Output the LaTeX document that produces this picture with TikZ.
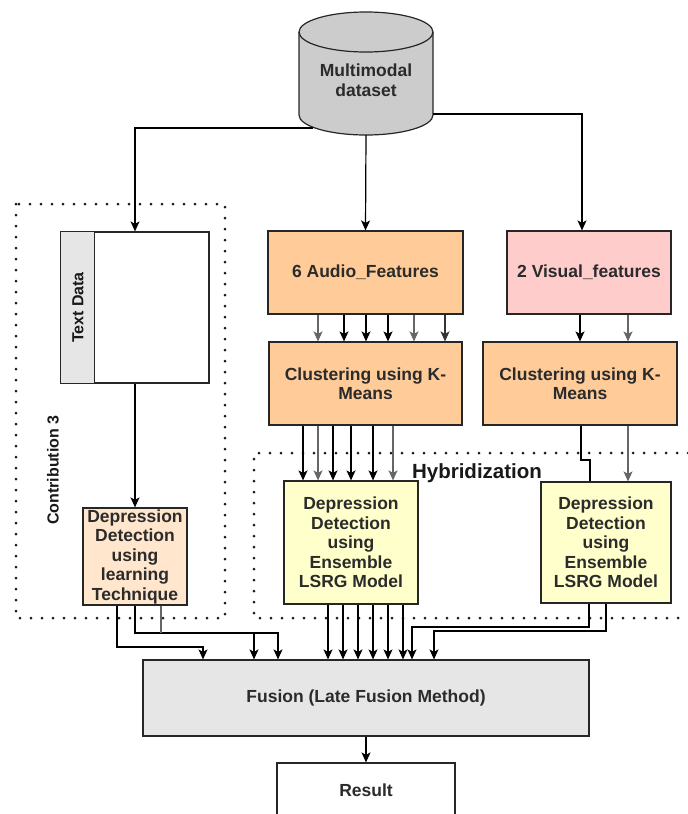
\documentclass[tikz,border=0pt]{standalone}
\usepackage{fontspec}
\setmainfont{Liberation Sans}
\usetikzlibrary{arrows.meta,calc}
\definecolor{cylgray}{HTML}{CCCCCC}
\definecolor{lgray}{HTML}{E6E6E6}
\definecolor{peach}{HTML}{FFE6CC}
\definecolor{orangeA}{HTML}{FFCC99}
\definecolor{pinkA}{HTML}{FFCCCC}
\definecolor{yellowA}{HTML}{FFFFCC}
\definecolor{txt}{HTML}{2B2B2B}
\begin{document}
\begin{tikzpicture}[x=1pt,y=-1pt,
 box/.style={draw=black!85, line width=1.2pt, inner sep=0pt, align=center, text=txt, font=\bfseries\fontsize{17.5}{19.5}\selectfont},
 arr/.style={-{Stealth[length=10pt,width=9pt,inset=2.5pt]}, line width=1.2pt, draw=black},
 ln/.style={line width=1.2pt, draw=black},
 dotline/.style={line width=3pt, line cap=round, dash pattern=on 0pt off 11pt, draw=black!90},
 lbl/.style={text=black!90, font=\bfseries\fontsize{16}{19}\selectfont, inner sep=0pt}
]
\useasboundingbox (0,0) rectangle (688,814);
\clip (0,0) rectangle (688,814);
\fill[white] (0,0) rectangle (688,814);

% dotted groups
\draw[dotline] (16,204) rectangle (225,618);
\draw[dotline] (688,453) -- (254,453) -- (254,618) -- (688,618);

% cylinder
\filldraw[fill=cylgray, draw=black!85, line width=1.2pt] (299,32) -- (299,115)
  arc[start angle=180, end angle=360, x radius=67pt, y radius=20pt] -- (433,32)
  arc[start angle=0, end angle=180, x radius=67pt, y radius=20pt] -- cycle;
\draw[line width=1.2pt, draw=black!85] (299,32) arc[start angle=180, end angle=360, x radius=67pt, y radius=20pt];
\node[align=center, text=txt, font=\bfseries\fontsize{17.5}{19.5}\selectfont] (ds) at (366,80) {Multimodal\\dataset};
\coordinate (dsL) at (313,128);
\coordinate (dsB) at (366,135);
\coordinate (dsR) at (433,114);

% text data swimlane
\node[box, fill=white, minimum width=148pt, minimum height=151pt] (td) at (135,307.5) {};
\filldraw[fill=lgray, draw=black!85, line width=1.2pt] (td.north west) rectangle ([xshift=34pt]td.south west);
\node[lbl, rotate=90] (tdl) at (78,307.5) {Text Data};
\node[lbl, rotate=90] (c3) at (53,470) {Contribution 3};

% boxes
\node[box, fill=peach, minimum width=104pt, minimum height=97pt] (dl) at (135,556.5) {Depression\\Detection\\using\\learning\\Technique};
\node[box, fill=orangeA, minimum width=195pt, minimum height=83pt] (au) at (365.5,272.5) {6 Audio\_Features};
\node[box, fill=pinkA, minimum width=164pt, minimum height=83pt] (vi) at (589,272.5) {2 Visual\_features};
\node[box, fill=orangeA, minimum width=193pt, minimum height=83pt] (ac) at (365.5,383.5) {Clustering using K-\\Means};
\node[box, fill=orangeA, minimum width=194pt, minimum height=83pt] (vc) at (580,383.5) {Clustering using K-\\Means};
\node[box, fill=yellowA, minimum width=134pt, minimum height=123pt] (ya) at (351,542.5) {Depression\\Detection\\using\\Ensemble\\LSRG Model};
\node[box, fill=yellowA, minimum width=130pt, minimum height=121pt] (yv) at (606,542.5) {Depression\\Detection\\using\\Ensemble\\LSRG Model};
\node[box, fill=lgray, minimum width=446pt, minimum height=76pt] (fus) at (366,698) {Fusion (Late Fusion Method)};
\node[box, fill=white, minimum width=178pt, minimum height=54pt] (res) at (366,790) {Result};
\node[font=\bfseries\fontsize{20.5}{24}\selectfont, text=black!90, inner sep=0pt] (hy) at (477,473) {Hybridization};

% connectors from dataset
\draw[arr] (dsL) -| (td.north);
\draw[arr] (dsB) -- (au.north);
\draw[arr] (dsR) -| ([xshift=-7pt]vi.north);
\draw[arr] (td.south) -- (dl.north);

% audio -> clustering
\foreach \x/\c in {318/black!60,344/black,366/black,388/black,414/black!60,445/black!80}
  \draw[arr, draw=\c] (\x,0 |- au.south) -- (\x,0 |- ac.north);
% visual -> clustering
\foreach \x/\c in {580/black,628/black!60}
  \draw[arr, draw=\c] (\x,0 |- vi.south) -- (\x,0 |- vc.north);
% clustering -> LSRG
\foreach \x/\c in {303/black,318/black!60,333/black,351/black,373/black,393/black!60}
  \draw[arr, draw=\c] (\x,0 |- ac.south) -- (\x,0 |- ya.north);
\draw[ln] (581,0 |- vc.south) -- (581,460) -- (590,460) -- (590,0 |- yv.north);
\draw[arr, draw=black!60] (628,0 |- vc.south) -- (628,0 |- yv.north);

% to fusion
\draw[arr] (117,0 |- dl.south) -- (117,647) -| (203,0 |- fus.north);
\draw[arr] (135,0 |- dl.south) -- (135,633) -| (254,0 |- fus.north);
\draw[ln, draw=black!60] (161,0 |- dl.south) -- (161,633);
\draw[arr] (254,633) -| (278,0 |- fus.north);
\foreach \x in {328,343,358,373,388,403}
  \draw[arr] (\x,0 |- ya.south) -- (\x,0 |- fus.north);
\draw[arr] (589,0 |- yv.south) -- (589,627) -| (412,0 |- fus.north);
\draw[arr] (606,0 |- yv.south) -- (606,631) -| (434,0 |- fus.north);
\draw[arr] (fus.south) -- (res.north);
\end{tikzpicture}
\end{document}
